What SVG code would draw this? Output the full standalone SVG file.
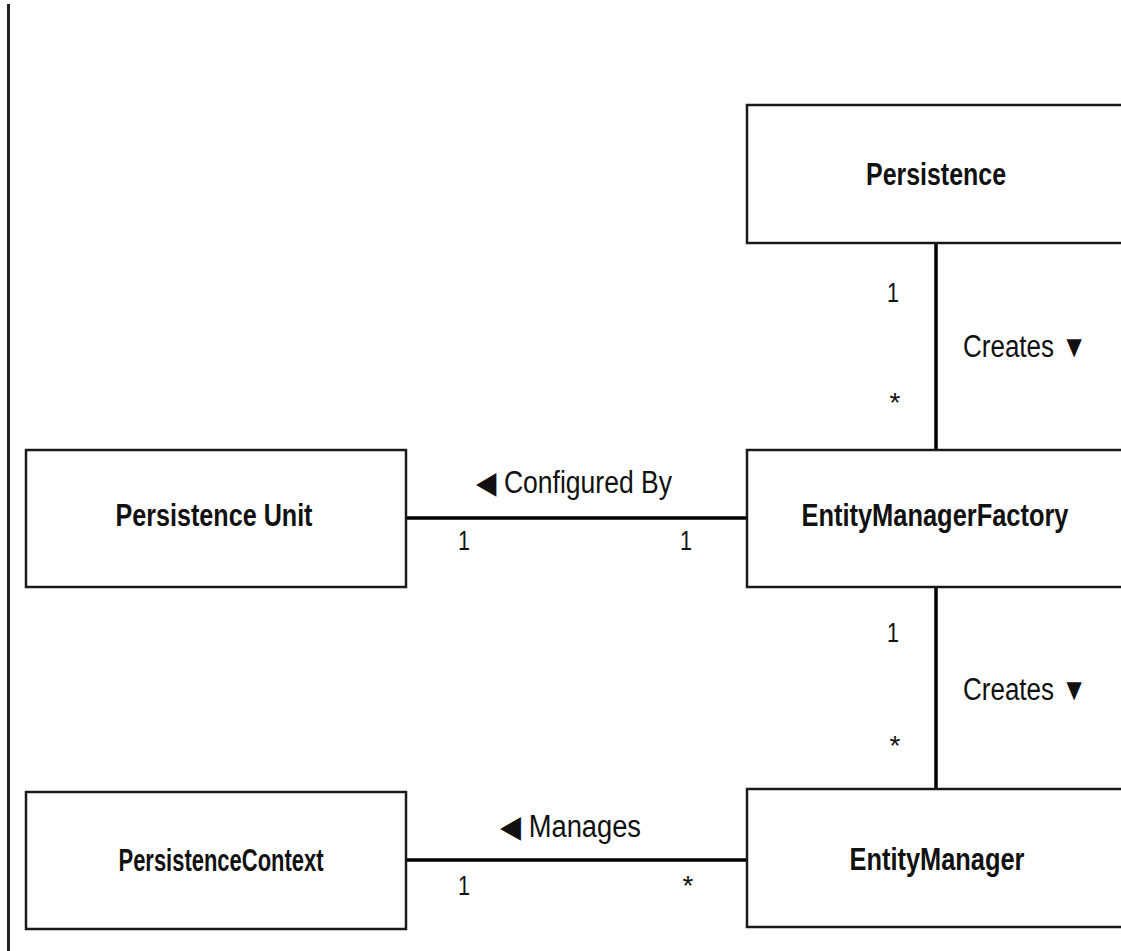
<svg xmlns="http://www.w3.org/2000/svg" width="1121" height="951" viewBox="0 0 1121 951">
<style>
.box{fill:#fff;stroke:#1a1a1a;stroke-width:2.5}
.conn{stroke:#000;stroke-width:3.5;fill:none}
.name{font-family:"Liberation Sans Narrow","Liberation Sans",Arial,sans-serif;font-weight:bold;font-size:31px;fill:#111;text-anchor:middle}
.lbl{font-family:"Liberation Sans Narrow","Liberation Sans",Arial,sans-serif;font-size:31px;fill:#111}
.mult{font-family:"Liberation Sans Narrow","Liberation Sans",Arial,sans-serif;font-size:28px;fill:#111;text-anchor:middle}
</style>
<rect width="1121" height="951" fill="#fff"/>
<line x1="8.5" y1="4" x2="8.5" y2="951" stroke="#222" stroke-width="3"/>
<g id="connectors">
<line class="conn" x1="936" y1="243" x2="936" y2="450"/>
<line class="conn" x1="936" y1="587" x2="936" y2="789"/>
<line class="conn" x1="406" y1="518" x2="747" y2="518"/>
<line class="conn" x1="406" y1="860" x2="747" y2="860"/>
<text class="lbl" x="963" y="357" textLength="124" lengthAdjust="spacingAndGlyphs">Creates ▼</text>
<text class="lbl" x="963" y="700" textLength="124" lengthAdjust="spacingAndGlyphs">Creates ▼</text>
<text class="lbl" x="476" y="493" textLength="196" lengthAdjust="spacingAndGlyphs">◀ Configured By</text>
<text class="lbl" x="500" y="837" textLength="141" lengthAdjust="spacingAndGlyphs">◀ Manages</text>
<text class="mult" x="893" y="302" textLength="12" lengthAdjust="spacingAndGlyphs">1</text>
<text class="mult" x="895" y="412">*</text>
<text class="mult" x="893" y="642" textLength="12" lengthAdjust="spacingAndGlyphs">1</text>
<text class="mult" x="895" y="755">*</text>
<text class="mult" x="464" y="550" textLength="12" lengthAdjust="spacingAndGlyphs">1</text>
<text class="mult" x="686" y="550" textLength="12" lengthAdjust="spacingAndGlyphs">1</text>
<text class="mult" x="464" y="895" textLength="12" lengthAdjust="spacingAndGlyphs">1</text>
<text class="mult" x="688" y="895">*</text>
</g>
<g id="persistence">
<rect class="box" x="747" y="105" width="390" height="138"/>
<text class="name" x="936" y="185" textLength="140" lengthAdjust="spacingAndGlyphs">Persistence</text>
</g>
<g id="persistence-unit">
<rect class="box" x="26" y="450" width="380" height="137"/>
<text class="name" x="214" y="526" textLength="197" lengthAdjust="spacingAndGlyphs">Persistence Unit</text>
</g>
<g id="entity-manager-factory">
<rect class="box" x="747" y="450" width="390" height="137"/>
<text class="name" x="935" y="526" textLength="267" lengthAdjust="spacingAndGlyphs">EntityManagerFactory</text>
</g>
<g id="persistence-context">
<rect class="box" x="26" y="792" width="380" height="137"/>
<text class="name" x="221" y="871" textLength="205" lengthAdjust="spacingAndGlyphs">PersistenceContext</text>
</g>
<g id="entity-manager">
<rect class="box" x="747" y="789" width="390" height="138"/>
<text class="name" x="937" y="870" textLength="175" lengthAdjust="spacingAndGlyphs">EntityManager</text>
</g>
</svg>
